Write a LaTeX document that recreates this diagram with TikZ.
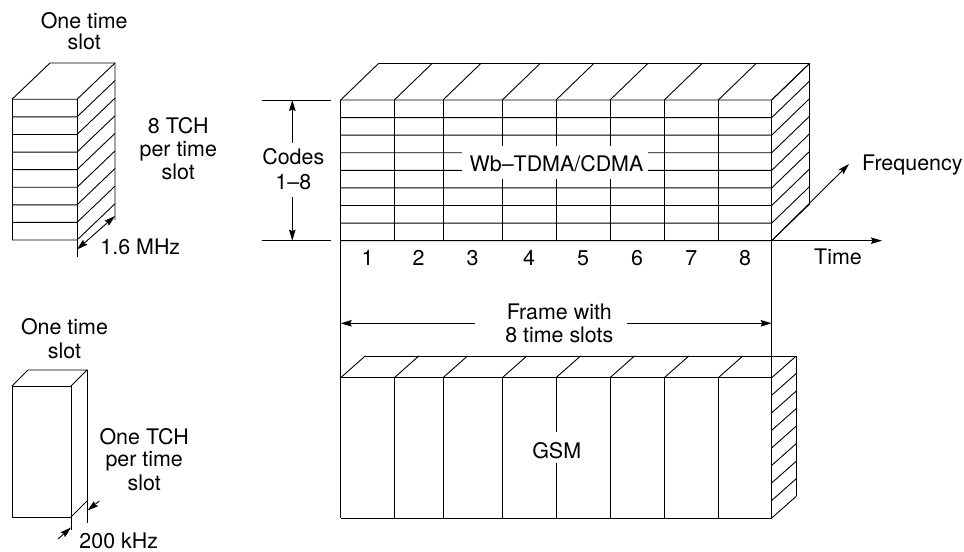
\documentclass[tikz,border=0pt]{standalone}
\usepackage{fontspec}
\setmainfont{TeX Gyre Heros}
\usetikzlibrary{arrows.meta}
\begin{document}
\begin{tikzpicture}[x=1bp,y=-1bp,line width=0.9bp,
  txt/.style={font=\fontsize{21.5}{24}\selectfont,inner sep=0pt,anchor=base},
  tipone/.style={-{Stealth[length=11bp,width=6.5bp,inset=1.5bp]}},
  tiptwo/.style={{Stealth[length=11bp,width=6.5bp,inset=1.5bp]}-{Stealth[length=11bp,width=6.5bp,inset=1.5bp]}}]
\path[use as bounding box] (0,0) rectangle (964,552);

% ---------- small block: 8 TCH per time slot ----------
\foreach \i in {0,...,8}{
  \draw (12,{99.3+\i*17.59}) -- (77,{99.3+\i*17.59}) -- ++(38,-36.3);
}
\draw (12,99.3) -- (12,240);
\draw (77,99.3) -- (77,257);
\draw (12,99.3) -- ++(38,-36.3) -- (115,63) -- (115,220);
\coordinate (mhzA) at (77,249.5);
\coordinate (mhzB) at (115,216);
\draw[tiptwo] (mhzA) -- (mhzB);
\node[txt] (ots1) at (84.2,28.3) {One time};
\node[txt] (ots2) at (84.2,49.5) {slot};
\node[txt] (tch1) at (178.3,133.3) {8 TCH};
\node[txt] (tch2) at (178.3,156.7) {per time};
\node[txt] (tch3) at (178.3,180) {slot};
\node[txt,anchor=base west] (mhz) at (100,255) {1.6 MHz};

% ---------- small block: one TCH per time slot ----------
\draw (12,386) rectangle (71,517);
\draw (12,386) -- (28,370) -- (87,370) -- (71,386);
\draw (71,517) -- (87,501);
\draw (87,370) -- (87,523);
\draw (71,517) -- (71,530);
\coordinate (khzA) at (99.3,501);
\coordinate (khzB) at (87.5,510.5);
\coordinate (khzC) at (58,539);
\coordinate (khzD) at (71,527.5);
\draw[tipone] (khzA) -- (khzB);
\draw[tipone] (khzC) -- (khzD);
\node[txt] (otb1) at (64.5,335) {One time};
\node[txt] (otb2) at (64.5,358.3) {slot};
\node[txt] (one1) at (144.2,444) {One TCH};
\node[txt] (one2) at (144.2,466.7) {per time};
\node[txt] (one3) at (144.2,490) {slot};
\node[txt,anchor=base west] (khz) at (79,548) {200 kHz};

% ---------- Wb-TDMA/CDMA block ----------
\foreach \x in {340.7,394.3,443,502.3,556,610,664.3,718.3,771.7}{
  \draw (\x,100) -- (\x,240.7);
  \draw (\x,100) -- ++(38,-36.7);
}
\foreach \i in {0,...,8}{
  \draw (340.7,{100+\i*17.5875}) -- (771.7,{100+\i*17.5875}) -- ++(38,-36.7);
}
\draw (378.7,63.3) -- (809.7,63.3) -- (809.7,204);
\fill[white] (461.7,146.5) rectangle (648.3,179.5);
\node[txt] (wb) at (556.5,171.7) {Wb–TDMA/CDMA};

% codes dimension
\draw (261.7,100) -- (330.7,100);
\draw (261.7,240.7) -- (330.7,240.7);
\coordinate (cdA) at (292.3,100);
\coordinate (cdB) at (292.3,240.7);
\draw[tiptwo] (cdA) -- (cdB);
\fill[white] (285,142.7) rectangle (300,196.7);
\node[txt] (cod1) at (293.3,165) {Codes};
\node[txt] (cod2) at (293.3,189.3) {1–8};

% axes
\coordinate (tA) at (340.7,240.7);
\coordinate (tB) at (882,240.7);
\draw[tipone] (tA) -- (tB);
\coordinate (fA) at (771.7,240.7);
\coordinate (fB) at (849,164);
\draw[tipone] (fA) -- (fB);
\node[txt] (time) at (838,265) {Time};
\node[txt,anchor=base west] (freq) at (861.7,171) {Frequency};
\foreach \n/\x in {1/367.5,2/418.65,3/472.65,4/529.15,5/583,6/637.15,7/691.3,8/745}{
  \node[txt] (num\n) at (\x,266) {\n};
}

% frame dimension
\draw (340.7,240.7) -- (340.7,377.7);
\draw (771.7,240.7) -- (771.7,377.7);
\coordinate (frA) at (340.7,323.3);
\coordinate (frB) at (771.7,323.3);
\draw[tiptwo] (frA) -- (frB);
\fill[white] (475,317) rectangle (626.7,330);
\node[txt] (fr1) at (559.3,319.3) {Frame with};
\node[txt] (fr2) at (559.3,342.3) {8 time slots};

% ---------- GSM block ----------
\foreach \x in {340.7,394.3,443,502.3,556,610,664.3,718.3,771.7}{
  \draw (\x,377.7) -- (\x,518);
  \draw (\x,377.7) -- ++(24.5,-21.7);
}
\draw (340.7,377.7) -- (771.7,377.7);
\draw (340.7,518) -- (771.7,518);
\draw (365.2,356) -- (796.2,356) -- (796.2,496.3);
\foreach \i in {1,...,8}{
  \draw (771.7,{377.7+\i*17.54}) -- ++(24.5,-21.7);
}
\fill[white] (550,431.7) rectangle (562,463.3);
\node[txt] (gsm) at (556.7,458.3) {GSM};
\end{tikzpicture}
\end{document}
